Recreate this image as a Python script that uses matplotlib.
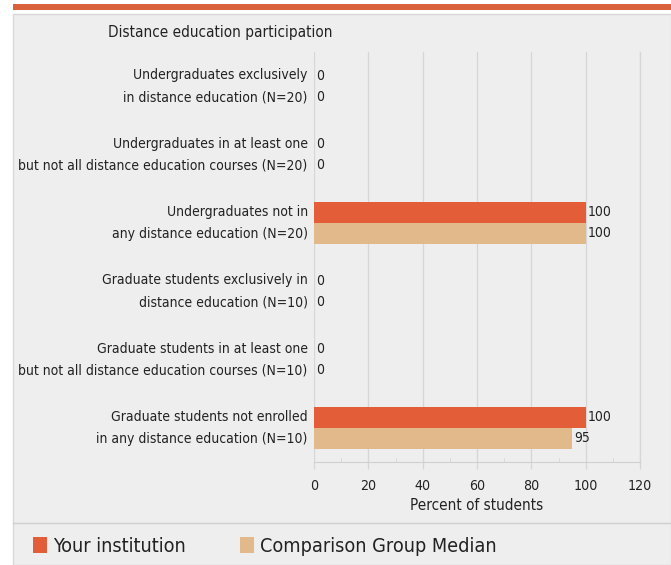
import numpy as np
import matplotlib
matplotlib.use('Agg')
import matplotlib.pyplot as plt
from matplotlib.patches import Rectangle

# ── Data ──────────────────────────────────────────────────────────────────────
categories = [
    'Undergraduates exclusively\nin distance education (N=20)',
    'Undergraduates in at least one\nbut not all distance education courses (N=20)',
    'Undergraduates not in\nany distance education (N=20)',
    'Graduate students exclusively in\ndistance education (N=10)',
    'Graduate students in at least one\nbut not all distance education courses (N=10)',
    'Graduate students not enrolled\nin any distance education (N=10)',
]
your_institution = [0, 0, 100, 0, 0, 100]
comparison_median = [0, 0, 100, 0, 0, 95]
series_names = ['Your institution', 'Comparison Group Median']
x_ticks = [0, 20, 40, 60, 80, 100, 120]

ORANGE = '#e35d38'
TAN = '#e2b98a'
PANEL = '#eeeeee'
INK = '#222222'
GRID = '#d6d6d6'
plt.rcParams['font.family'] = ['DejaVu Sans']
plt.rcParams['font.stretch'] = 'condensed'

W, H = 671, 565
fig = plt.figure(figsize=(W / 100, H / 100), dpi=100, facecolor='white')

# ── Background panel / decoration ─────────────────────────────────────────────
bg = fig.add_axes([0, 0, 1, 1])
bg.set_xlim(0, W)
bg.set_ylim(H, 0)
bg.axis('off')
bg.add_patch(Rectangle((13, 4), W - 13, 5.5, color='#d9623d', lw=0))
bg.add_patch(Rectangle((13, 14), W - 13, H - 14, facecolor=PANEL,
                       edgecolor='#d8d8d8', lw=1))
bg.plot([13, W], [523, 523], color='#cfcfcf', lw=1)
bg.text(108, 33, 'Distance education participation', fontsize=11,
        color=INK, ha='left', va='center')

# Legend
for x0, col, name in [(33, ORANGE, series_names[0]), (240, TAN, series_names[1])]:
    bg.add_patch(Rectangle((x0, 537), 14, 16, color=col, lw=0))
    bg.text(x0 + 20, 546, name, fontsize=14.2, color=INK,
            ha='left', va='center')

# ── Bar chart ─────────────────────────────────────────────────────────────────
ax = fig.add_axes([314 / W, 1 - 462 / H, 326 / W, 410 / H])
ax.set_facecolor(PANEL)
n = len(categories)
y = np.arange(n)
bh = 0.31
ax.barh(y - bh / 2, your_institution, height=bh, color=ORANGE, zorder=3)
ax.barh(y + bh / 2, comparison_median, height=bh, color=TAN, zorder=3)

for yi, v1, v2 in zip(y, your_institution, comparison_median):
    ax.text(v1 + 0.8, yi - bh / 2, f'{v1}', va='center', ha='left',
            fontsize=10, color=INK)
    ax.text(v2 + 0.8, yi + bh / 2, f'{v2}', va='center', ha='left',
            fontsize=10, color=INK)

ax.set_xlim(0, 120)
ax.set_ylim(n - 0.5, -0.5)
ax.set_xticks(x_ticks)
ax.set_xticklabels([str(t) for t in x_ticks], fontsize=10.2, color=INK)
ax.set_xticks(np.arange(10, 120, 20), minor=True)
ax.set_yticks(y)
ax.set_yticklabels(categories, fontsize=10, color=INK, linespacing=1.7,
                   va='center')
ax.tick_params(axis='y', length=0, pad=4.5)
ax.tick_params(axis='x', which='major', length=5, color=GRID, width=0.9, pad=7)
ax.tick_params(axis='x', which='minor', length=3, color=GRID, direction='in')
ax.grid(axis='x', which='major', color=GRID, lw=0.9, zorder=0)
ax.axvline(120, color=GRID, lw=0.9, zorder=0, clip_on=False)
for side in ['top', 'right', 'left']:
    ax.spines[side].set_visible(False)
ax.spines['bottom'].set_color('#d0d0d0')
ax.set_xlabel('Percent of students', fontsize=11, color=INK, labelpad=4)

fig.savefig('out.png', dpi=100, facecolor='white')
